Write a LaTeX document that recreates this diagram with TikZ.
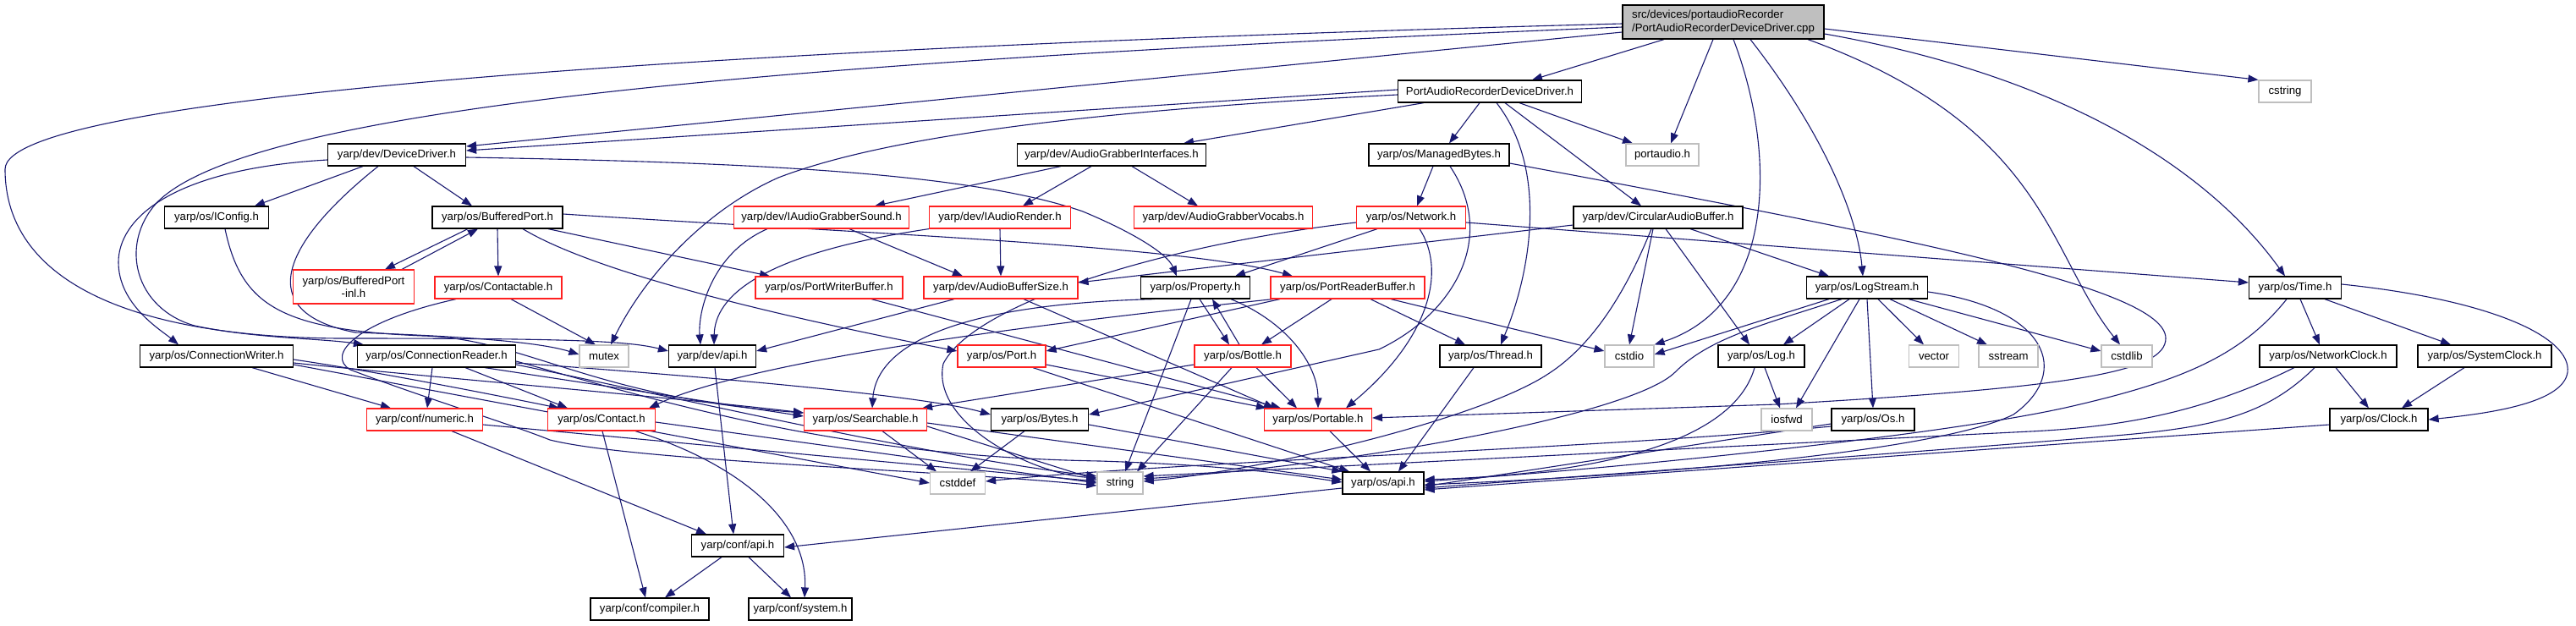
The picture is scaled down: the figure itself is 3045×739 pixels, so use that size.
\documentclass[tikz,border=0pt]{standalone}
\usepackage{fontspec}
\setmainfont{Liberation Sans}
\usetikzlibrary{arrows.meta}
\pgfdeclarelayer{bg}
\pgfdeclarelayer{paper}
\pgfsetlayers{paper,bg,main}
\definecolor{edgec}{HTML}{191970}
\definecolor{redb}{HTML}{FF2020}
\definecolor{grayb}{HTML}{BFBFBF}
\definecolor{mainfill}{HTML}{BFBFBF}
\tikzset{
 bx/.style={rectangle, minimum height=26pt, inner sep=0pt, fill=white, font=\fontsize{13.2}{15.5}\selectfont, line width=1.2pt},
 blk/.style={bx, draw=black},
 rd/.style={bx, draw=redb},
 gr/.style={bx, draw=grayb},
 edg/.style={draw=edgec, line width=1.1pt, -{Triangle[length=12pt,width=9pt]}},
}
\begin{document}
\begin{tikzpicture}[x=1pt,y=-1pt]
\begin{pgfonlayer}{paper}
\fill[white] (0,0) rectangle (3045,739);
\end{pgfonlayer}
\useasboundingbox (0,0) rectangle (3045,739);
% nodes
\node[blk, fill=mainfill, minimum width=238pt, minimum height=40pt, align=left] (M) at (2037,26) {src/devices/portaudioRecorder\\/PortAudioRecorderDeviceDriver.cpp};
\node[blk, minimum width=217pt] (PH) at (1761,108) {PortAudioRecorderDeviceDriver.h};
\node[gr, minimum width=62pt] (CSTR) at (2701,108) {cstring};
\node[blk, minimum width=163pt] (DD) at (469,183) {yarp/dev/DeviceDriver.h};
\node[blk, minimum width=223pt] (AGI) at (1314,183) {yarp/dev/AudioGrabberInterfaces.h};
\node[blk, minimum width=166pt] (MB) at (1701,183) {yarp/os/ManagedBytes.h};
\node[gr, minimum width=86pt] (PA) at (1965,183) {portaudio.h};
\node[blk, minimum width=123pt] (IC) at (256,257) {yarp/os/IConfig.h};
\node[blk, minimum width=154pt] (BP) at (588,257) {yarp/os/BufferedPort.h};
\node[rd, minimum width=207pt] (IAGS) at (971,257) {yarp/dev/IAudioGrabberSound.h};
\node[rd, minimum width=167pt] (IAR) at (1182,257) {yarp/dev/IAudioRender.h};
\node[rd, minimum width=211pt] (AGV) at (1446,257) {yarp/dev/AudioGrabberVocabs.h};
\node[rd, minimum width=129pt] (NET) at (1668,257) {yarp/os/Network.h};
\node[blk, minimum width=200pt] (CAB) at (1960,257) {yarp/dev/CircularAudioBuffer.h};
\node[rd, minimum width=143pt, minimum height=40pt, align=center] (BPI) at (418,339) {yarp/os/BufferedPort\\-inl.h};
\node[rd, minimum width=150pt] (CTB) at (589,340) {yarp/os/Contactable.h};
\node[rd, minimum width=174pt] (PWB) at (980,340) {yarp/os/PortWriterBuffer.h};
\node[rd, minimum width=182pt] (ABS) at (1183,340) {yarp/dev/AudioBufferSize.h};
\node[blk, minimum width=129pt] (PROP) at (1413,340) {yarp/os/Property.h};
\node[rd, minimum width=182pt] (PRB) at (1593,340) {yarp/os/PortReaderBuffer.h};
\node[blk, minimum width=143pt] (LS) at (2207,340) {yarp/os/LogStream.h};
\node[blk, minimum width=109pt] (TIME) at (2713,340) {yarp/os/Time.h};
\node[blk, minimum width=181pt] (CW) at (256,421) {yarp/os/ConnectionWriter.h};
\node[blk, minimum width=187pt] (CR) at (516,421) {yarp/os/ConnectionReader.h};
\node[gr, minimum width=58pt] (MTX) at (714,421) {mutex};
\node[blk, minimum width=103pt] (DAPI) at (842,421) {yarp/dev/api.h};
\node[rd, minimum width=104pt] (PORT) at (1184,421) {yarp/os/Port.h};
\node[rd, minimum width=114pt] (BOT) at (1469,421) {yarp/os/Bottle.h};
\node[blk, minimum width=120pt] (THR) at (1762,421) {yarp/os/Thread.h};
\node[gr, minimum width=58pt] (CSTDIO) at (1926,421) {cstdio};
\node[blk, minimum width=102pt] (LOG) at (2082,421) {yarp/os/Log.h};
\node[gr, minimum width=59pt] (VEC) at (2286,421) {vector};
\node[gr, minimum width=70pt] (SST) at (2374,421) {sstream};
\node[gr, minimum width=60pt] (CSTDLIB) at (2514,421) {cstdlib};
\node[blk, minimum width=162pt] (NCLK) at (2752,421) {yarp/os/NetworkClock.h};
\node[blk, minimum width=158pt] (SCLK) at (2937,421) {yarp/os/SystemClock.h};
\node[rd, minimum width=137pt] (NUM) at (502,496) {yarp/conf/numeric.h};
\node[rd, minimum width=127pt] (CON) at (711,496) {yarp/os/Contact.h};
\node[rd, minimum width=145pt] (SRCH) at (1023,496) {yarp/os/Searchable.h};
\node[blk, minimum width=115pt] (BYT) at (1229,496) {yarp/os/Bytes.h};
\node[rd, minimum width=127pt] (PORTB) at (1558,496) {yarp/os/Portable.h};
\node[gr, minimum width=60pt] (IOS) at (2112,496) {iosfwd};
\node[blk, minimum width=98pt] (OS) at (2214,496) {yarp/os/Os.h};
\node[blk, minimum width=116pt] (CLK) at (2812,496) {yarp/os/Clock.h};
\node[gr, minimum width=65pt] (CDEF) at (1132,571) {cstddef};
\node[gr, minimum width=54pt] (STR) at (1324,571) {string};
\node[blk, minimum width=96pt] (OAPI) at (1635,571) {yarp/os/api.h};
\node[blk, minimum width=109pt] (CAPI) at (872,645) {yarp/conf/api.h};
\node[blk, minimum width=140pt] (COMP) at (768,720) {yarp/conf/compiler.h};
\node[blk, minimum width=122pt] (SYS) at (946,720) {yarp/conf/system.h};
\begin{pgfonlayer}{bg}
% main cpp
\draw[edg] ([xshift=-70pt]M.south) -- ([xshift=50pt]PH.north);
\draw[edg] ([xshift=-12pt]M.south) -- ([xshift=10pt]PA.north);
\draw[edg] ([yshift=-8pt]M.east) -- (CSTR.north west);
\draw[edg] ([yshift=-14pt]M.east) .. controls (2440,90) and (2610,200) .. ([xshift=-12pt]TIME.north);
\draw[edg] ([xshift=32pt]M.south) .. controls (2150,150) and (2195,250) .. ([xshift=-5pt]LS.north);
\draw[edg] ([xshift=12pt]M.south) .. controls (2100,180) and (2100,360) .. (CSTDIO.north east);
\draw[edg] ([xshift=100pt]M.south) .. controls (2420,150) and (2420,300) .. ([xshift=-8pt]CSTDLIB.north);
\draw[edg] ([yshift=-12pt]M.west) -- ([yshift=10pt]DD.east);
\draw[edg] ([yshift=-2pt]M.west) .. controls (900,55) and (6,110) .. (6,200) .. controls (6,330) and (150,398) .. (400,400) .. controls (650,400) and (740,402) .. ([yshift=6pt]DAPI.west);
\draw[edg] ([yshift=-6pt]M.west) .. controls (1000,70) and (300,120) .. (185,240) .. controls (140,290) and (160,365) .. (230,385) .. controls (300,400) and (380,400) .. ([xshift=8pt]CR.north west);
% DeviceDriver
\draw[edg] ([xshift=-40pt]DD.south) -- ([xshift=45pt]IC.north);
\draw[edg] ([xshift=20pt]DD.south) -- ([xshift=-30pt]BP.north);
\draw[edg] ([yshift=-3pt]DD.east) .. controls (900,192) and (1150,205) .. (1280,250) .. controls (1340,275) and (1380,300) .. ([xshift=-22pt]PROP.north);
\draw[edg] ([yshift=-6pt]DD.west) .. controls (200,200) and (140,260) .. (140,310) .. controls (140,360) and (190,390) .. ([xshift=-45pt]CW.north);
\draw[edg] ([xshift=-22pt]DD.south) .. controls (330,290) and (300,370) .. (420,393) .. controls (560,398) and (640,405) .. ([yshift=2pt]MTX.west);
\draw[edg] ([xshift=10pt]IC.south) .. controls (285,360) and (330,390) .. (500,397) .. controls (620,400) and (700,470) .. ([yshift=8pt]SRCH.west);
% BufferedPort
\draw[edg] ([xshift=-35pt]BP.south) -- ([xshift=37pt]BPI.north);
\draw[edg] ([xshift=57pt]BPI.north) -- ([xshift=-23pt]BP.south);
\draw[edg] (BP.south) -- (CTB.north);
\draw[edg] ([xshift=60pt]BP.south) -- ([xshift=-70pt]PWB.north);
\draw[edg] ([xshift=30pt]BP.south) .. controls (700,320) and (900,370) .. ([yshift=6pt]PORT.west);
\draw[edg] ([yshift=4pt]BP.east) .. controls (1000,275) and (1400,290) .. ([xshift=-65pt]PRB.north);
\draw[edg] ([xshift=15pt]CTB.south) -- ([xshift=-10pt]MTX.north);
\draw[edg] ([xshift=-50pt]CTB.south) .. controls (420,380) and (385,420) .. (414,437) .. controls (500,470) and (600,500) .. (650,520) .. controls (750,545) and (1100,555) .. ([yshift=-3pt]STR.west);
% PortAudioRecorderDeviceDriver.h
\draw[edg] ([xshift=-78pt]PH.south) -- ([xshift=85pt]AGI.north);
\draw[edg] ([xshift=-12pt]PH.south) -- ([xshift=12pt]MB.north);
\draw[edg] ([xshift=35pt]PH.south) -- ([xshift=-35pt]PA.north);
\draw[edg] ([xshift=18pt]PH.south) -- ([xshift=-20pt]CAB.north);
\draw[edg] ([xshift=8pt]PH.south) .. controls (1830,200) and (1810,320) .. ([xshift=12pt]THR.north);
\draw[edg] ([yshift=-4pt]PH.west) .. controls (1300,130) and (1050,160) .. (920,210) .. controls (830,250) and (760,330) .. ([xshift=8pt]MTX.north);
\draw[edg] ([yshift=2pt]PH.west) -- ([yshift=5pt]DD.east);
% audio grabber
\draw[edg] ([xshift=-60pt]AGI.south) -- ([xshift=63pt]IAGS.north);
\draw[edg] ([xshift=-24pt]AGI.south) -- ([xshift=27pt]IAR.north);
\draw[edg] ([xshift=24pt]AGI.south) -- ([xshift=-30pt]AGV.north);
\draw[edg] ([xshift=-64pt]IAGS.south) .. controls (840,300) and (825,370) .. ([xshift=-14pt]DAPI.north);
\draw[edg] ([xshift=33pt]IAGS.south) -- ([xshift=-45pt]ABS.north);
\draw[edg] (IAR.south west) .. controls (900,300) and (845,350) .. ([xshift=2pt]DAPI.north);
\draw[edg] (IAR.south) -- (ABS.north);
\draw[edg] ([xshift=-55pt]ABS.south) -- ([yshift=6pt]DAPI.east);
\draw[edg] ([xshift=27pt]ABS.south) -- ([xshift=-52pt]PORTB.north);
\draw[edg] ([xshift=50pt]PWB.south) -- ([xshift=-44pt]PORTB.north);
% CircularAudioBuffer
\draw[edg] ([yshift=-9pt]CAB.west) -- ([yshift=6pt]ABS.east);
\draw[edg] ([xshift=-6pt]CAB.south) -- (CSTDIO.north);
\draw[edg] ([xshift=9pt]CAB.south) -- ([xshift=-14pt]LOG.north);
\draw[edg] ([xshift=38pt]CAB.south) -- ([xshift=-45pt]LS.north);
\draw[edg] ([xshift=-8pt]CAB.south) .. controls (1920,350) and (1880,410) .. (1830,442) .. controls (1750,495) and (1500,555) .. ([yshift=2pt]STR.east);
% ManagedBytes
\draw[edg] ([xshift=-7pt]MB.south) -- ([xshift=7pt]NET.north);
\draw[edg] ([xshift=13pt]MB.south) .. controls (1770,280) and (1720,370) .. (1630,413) -- ([yshift=6pt]BYT.east);
\draw[edg] ([yshift=-10pt]MB.east) .. controls (2250,280) and (2560,340) .. (2560,400) .. controls (2560,440) and (2450,458) .. (2100,478) -- ([yshift=2pt]PORTB.east);
% Network
\draw[edg] ([xshift=-40pt]NET.south) -- ([xshift=47pt]PROP.north);
\draw[edg] ([xshift=10pt]NET.south) .. controls (1710,320) and (1690,400) .. ([xshift=33pt]PORTB.north);
\draw[edg] ([yshift=-6pt]NET.east) -- ([yshift=6pt]TIME.west);
\draw[edg] ([yshift=-6pt]NET.west) .. controls (1370,290) and (1150,360) .. (1115,430) .. controls (1100,500) and (1220,560) .. ([yshift=6pt]STR.west);
% PortReaderBuffer
\draw[edg] ([xshift=-19pt]PRB.south) -- ([xshift=22pt]BOT.north);
\draw[edg] ([xshift=27pt]PRB.south) -- ([xshift=-30pt]THR.north);
\draw[edg] ([xshift=51pt]PRB.south) -- ([yshift=6pt]CSTDIO.west);
\draw[edg] ([xshift=-80pt]PRB.south) -- ([yshift=6pt]PORT.east);
\draw[edg] ([xshift=-88pt]PRB.south) .. controls (1300,375) and (900,420) .. ([xshift=-8pt]CON.north east);
% Property
\draw[edg] ([xshift=5pt]PROP.south) -- ([xshift=-16pt]BOT.north);
\draw[edg] ([xshift=-4pt]BOT.north) -- ([xshift=20pt]PROP.south);
\draw[edg] ([xshift=-5pt]PROP.south) -- ([xshift=6pt]STR.north);
\draw[edg] ([xshift=42pt]PROP.south) .. controls (1520,380) and (1558,430) .. (PORTB.north);
\draw[edg] ([xshift=-48pt]PROP.south) .. controls (1100,360) and (1035,420) .. ([xshift=8pt]SRCH.north);
% Bottle, Port
\draw[edg] ([yshift=-10pt]BOT.west) -- ([xshift=-6pt]SRCH.north east);
\draw[edg] ([xshift=-13pt]BOT.south) -- ([xshift=20pt]STR.north);
\draw[edg] ([xshift=16pt]BOT.south) -- ([xshift=-25pt]PORTB.north);
\draw[edg] ([yshift=-10pt]PORT.east) -- ([xshift=3pt]PORTB.north west);
\draw[edg] ([xshift=37pt]PORT.south) -- ([xshift=-40pt]OAPI.north);
% Searchable, Bytes, Portable, Thread
\draw[edg] ([xshift=20pt]SRCH.south) -- ([xshift=-25pt]CDEF.north);
\draw[edg] ([yshift=-8pt]SRCH.east) -- ([yshift=4pt]STR.west);
\draw[edg] ([yshift=-4pt]SRCH.east) -- ([yshift=4pt]OAPI.west);
\draw[edg] ([xshift=-18pt]BYT.south) -- ([xshift=15pt]CDEF.north);
\draw[edg] ([yshift=-6pt]BYT.east) -- (OAPI.north west);
\draw[edg] ([xshift=14pt]PORTB.south) -- ([xshift=-15pt]OAPI.north);
\draw[edg] ([xshift=-20pt]THR.south) -- ([xshift=18pt]OAPI.north);
% api
\draw[edg] ([yshift=-6pt]OAPI.west) -- ([yshift=-2pt]CAPI.east);
\draw[edg] ([xshift=3pt]DAPI.south) -- ([xshift=-5pt]CAPI.north);
\draw[edg] ([xshift=-19pt]CAPI.south) -- ([xshift=18pt]COMP.north);
\draw[edg] ([xshift=13pt]CAPI.south) -- ([xshift=-11pt]SYS.north);
\draw[edg] ([xshift=32pt]NUM.south) -- ([xshift=-37pt]CAPI.north);
\draw[edg] ([yshift=-6pt]NUM.east) -- ([yshift=2pt]STR.west);
\draw[edg] ([xshift=1pt]CON.south) -- ([xshift=-5pt]COMP.north);
\draw[edg] ([xshift=40pt]CON.south) .. controls (880,550) and (955,620) .. ([xshift=5pt]SYS.north);
\draw[edg] ([yshift=-3pt]CON.east) -- (STR.west);
% ConnectionWriter / Reader
\draw[edg] ([xshift=42pt]CW.south) -- ([xshift=-40pt]NUM.north);
\draw[edg] ([yshift=-4pt]CW.east) .. controls (450,440) and (600,470) .. ([xshift=-50pt]CON.north);
\draw[edg] ([yshift=-8pt]CW.east) .. controls (500,445) and (800,470) .. ([yshift=8pt]SRCH.west);
\draw[edg] ([yshift=-10pt]CW.east) -- (CDEF.west);
\draw[edg] ([xshift=-5pt]CR.south) -- ([xshift=3pt]NUM.north);
\draw[edg] ([xshift=34pt]CR.south) -- ([xshift=-40pt]CON.north);
\draw[edg] ([xshift=57pt]CR.south) -- ([yshift=4pt]SRCH.west);
\draw[edg] ([yshift=-8pt]CR.east) .. controls (900,450) and (1100,470) .. ([yshift=6pt]BYT.west);
\draw[edg] ([yshift=-10pt]CR.east) .. controls (800,470) and (1100,540) .. ([yshift=8pt]STR.west);
\draw[edg] ([yshift=-6pt]CR.east) .. controls (800,480) and (1000,540) .. (1300,545) .. controls (1450,550) and (1520,560) .. ([yshift=1pt]OAPI.west);
% LogStream
\draw[edg] ([xshift=-21pt]LS.south) -- ([xshift=26pt]LOG.north);
\draw[edg] ([xshift=-9pt]LS.south) -- ([xshift=11pt]IOS.north);
\draw[edg] (LS.south) -- (OS.north);
\draw[edg] ([xshift=13pt]LS.south) -- ([xshift=-12pt]VEC.north);
\draw[edg] ([xshift=27pt]LS.south) -- ([xshift=-25pt]SST.north);
\draw[edg] ([xshift=49pt]LS.south) -- ([yshift=6pt]CSTDLIB.west);
\draw[edg] ([xshift=-45pt]LS.south) -- ([yshift=2pt]CSTDIO.east);
\draw[edg] ([xshift=-30pt]LS.south) .. controls (2080,385) and (2020,400) .. (1980,440) .. controls (1930,490) and (1600,550) .. ([yshift=5pt]STR.east);
\draw[edg] ([yshift=-5pt]LS.east) .. controls (2420,365) and (2450,440) .. (2380,490) .. controls (2300,530) and (2000,560) .. ([yshift=-2pt]OAPI.east);
\draw[edg] ([xshift=4pt]LOG.south) -- ([xshift=-8pt]IOS.north);
\draw[edg] ([xshift=-8pt]LOG.south) .. controls (2050,520) and (1900,560) .. ([yshift=4pt]OAPI.east);
\draw[edg] ([yshift=-5pt]OS.west) -- ([yshift=-4pt]OAPI.east);
\draw[edg] ([yshift=-8pt]OS.west) .. controls (1900,530) and (1400,545) .. ([yshift=2pt]CDEF.east);
% Time and clocks
\draw[edg] ([xshift=6pt]TIME.south) -- ([xshift=-10pt]NCLK.north);
\draw[edg] ([xshift=35pt]TIME.south) -- ([xshift=-40pt]SCLK.north);
\draw[edg] ([yshift=4pt]TIME.east) .. controls (2950,355) and (3040,400) .. (3035,440) .. controls (3030,475) and (2950,488) .. (CLK.east);
\draw[edg] ([xshift=-10pt]TIME.south) .. controls (2650,420) and (2580,450) .. (2450,480) .. controls (2300,515) and (1900,555) .. ([yshift=2pt]OAPI.east);
\draw[edg] ([xshift=9pt]NCLK.south) -- ([xshift=-12pt]CLK.north);
\draw[edg] ([xshift=-16pt]NCLK.south) .. controls (2680,490) and (2620,505) .. (2500,515) .. controls (2200,540) and (1900,560) .. ([yshift=-6pt]OAPI.east);
\draw[edg] ([xshift=-40pt]NCLK.south) .. controls (2600,490) and (2500,505) .. (2400,510) .. controls (2200,520) and (1700,545) .. ([yshift=8pt]STR.east);
\draw[edg] ([xshift=-24pt]SCLK.south) -- ([xshift=27pt]CLK.north);
\draw[edg] ([yshift=-6pt]CLK.west) -- ([yshift=-8pt]OAPI.east);
\end{pgfonlayer}
\end{tikzpicture}
\end{document}
